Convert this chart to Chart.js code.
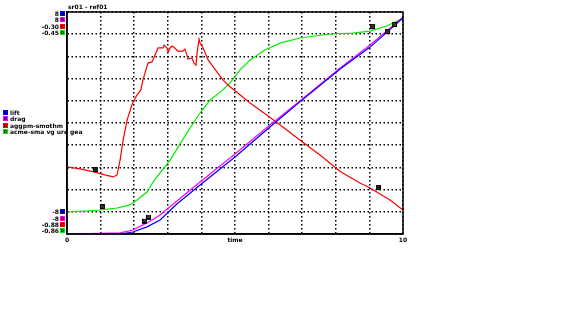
<!DOCTYPE html>
<html>
<head>
<meta charset="utf-8">
<script src="https://cdn.jsdelivr.net/npm/chart.js@4/dist/chart.umd.min.js"></script>
<style>
  html, body { margin: 0; padding: 0; background: #fff; }
  #wrap { width: 573px; height: 334px; position: relative; }
</style>
</head>
<body>
<div id="wrap"><canvas id="c"></canvas></div>
<script>
// x in time units (0..10), y normalised to the 10 grid divisions
const redX = [0, 0.39, 0.83, 1.13, 1.37, 1.49, 1.58, 1.67, 1.79, 1.93, 2.08, 2.20, 2.26, 2.32, 2.41, 2.53, 2.62, 2.71, 2.86, 2.89, 2.98, 3.01, 3.07, 3.13, 3.21, 3.30, 3.45, 3.51, 3.57, 3.60, 3.72, 3.78, 3.84, 3.87, 3.93, 3.96, 4.05, 4.20, 4.46, 4.64, 4.79, 5.45, 6.19, 6.93, 7.53, 8.13, 8.72, 9.02, 9.61, 10]
const redY = [3.02, 2.93, 2.79, 2.66, 2.57, 2.66, 3.33, 4.23, 5.14, 5.81, 6.26, 6.49, 6.94, 7.25, 7.70, 7.75, 8.06, 8.38, 8.38, 8.51, 8.38, 8.20, 8.38, 8.47, 8.38, 8.24, 8.24, 8.33, 8.06, 7.88, 7.93, 7.70, 7.61, 8.15, 8.78, 8.60, 8.38, 7.84, 7.30, 6.94, 6.71, 5.90, 5.09, 4.23, 3.56, 2.82, 2.30, 2.07, 1.53, 1.08]

const greenX = [0, 0.65, 0.98, 1.28, 1.49, 1.88, 2.08, 2.38, 2.56, 2.77, 3.07, 3.36, 3.66, 3.96, 4.26, 4.64, 4.85, 5.15, 5.45, 5.89, 6.34, 6.93, 7.83, 8.51, 9.02, 9.52, 10]
const greenY = [0.99, 1.04, 1.08, 1.13, 1.17, 1.31, 1.53, 1.89, 2.34, 2.75, 3.33, 4.05, 4.77, 5.45, 6.04, 6.49, 6.80, 7.39, 7.84, 8.29, 8.60, 8.83, 9.01, 9.05, 9.14, 9.37, 9.73]

const blueX = [0, 1.58, 1.96, 2.38, 2.77, 3.27, 3.96, 5.0, 6.04, 6.93, 8.13, 9.02, 10]
const blueY = [0, 0, 0.09, 0.32, 0.63, 1.35, 2.21, 3.47, 4.82, 5.95, 7.43, 8.42, 9.73]

const magentaX = [0, 1.58, 1.96, 2.38, 2.77, 3.27, 3.96, 5.0, 6.04, 6.93, 8.13, 9.02, 10]
const magentaY = [0, 0.05, 0.18, 0.50, 0.86, 1.49, 2.34, 3.60, 4.91, 5.99, 7.48, 8.51, 9.77]

const xTickLabels = { 0: '0', 5: 'time', 10: '10' }
const titleText = 'sr01 - ref01'
const seriesLetters = ['A', 'B', 'C', 'D']
const seriesNames = ['lift', 'drag', 'aggpm-smothm', 'acme-sma vg ure gea']
const topValues = ['8', '8', '-0.30', '-0.45']
const bottomValues = ['-8', '-8', '-0.88', '-0.86']
const colors = ['#0000ff', '#ff00ff', '#ff0000', '#00ee00']

// on-curve markers: [dataset, point index, letter, dx, dy]
const curveMarks = [
  [2, 2, 'C', 0, -2],
  [2, 47, 'C', 8, 0],
  [3, 2, 'D', 2, -3],
  [3, 24, 'D', 2, -4],
  [0, 3, 'A', -3, -5],
  [1, 3, 'B', 1, -5],
  [0, 11, 'A', 17, -15],
  [1, 11, 'B', 24, -20]
]

function pts(xs, ys) {
  return xs.map((x, i) => ({ x: x, y: ys[i] }))
}

const textPlugin = {
  id: 'texts',
  afterDraw(chart) {
    const ctx = chart.ctx
    const ca = chart.chartArea
    ctx.save()

    // solid frame round the plot
    ctx.strokeStyle = '#000'
    ctx.lineWidth = 1.5
    ctx.strokeRect(ca.left, ca.top, ca.right - ca.left, ca.bottom - ca.top)

    ctx.font = 'bold 6px "DejaVu Sans"'
    ctx.fillStyle = '#000'
    ctx.textBaseline = 'middle'

    // title above plot
    ctx.textAlign = 'left'
    ctx.fillText(titleText, ca.left + 1, ca.top - 5)

    const icon = (i, x, y) => {
      ctx.fillStyle = colors[i]
      ctx.fillRect(x, y - 3, 5, 5)
      ctx.fillStyle = '#000'
      ctx.font = 'bold 4px "DejaVu Sans"'
      ctx.textAlign = 'center'
      ctx.fillText(seriesLetters[i], x + 2.5, y - 0.5)
      ctx.font = 'bold 6px "DejaVu Sans"'
    }

    // max values top-left, min values bottom-left
    const topY = [14, 20, 27, 33]
    const botY = [212, 219, 225, 231]
    for (let i = 0; i < 4; i++) {
      ctx.textAlign = 'right'
      ctx.fillStyle = '#000'
      ctx.fillText(topValues[i], ca.left - 8, topY[i])
      icon(i, ca.left - 7, topY[i])
      ctx.textAlign = 'right'
      ctx.fillStyle = '#000'
      ctx.fillText(bottomValues[i], ca.left - 8, botY[i])
      icon(i, ca.left - 7, botY[i])
    }

    // legend on the left
    const legY = [113, 119, 126, 132]
    for (let i = 0; i < 4; i++) {
      icon(i, 3, legY[i])
      ctx.textAlign = 'left'
      ctx.fillStyle = '#000'
      ctx.fillText(seriesNames[i], 10, legY[i])
    }

    // markers on the curves
    curveMarks.forEach(([d, p, letter, dx, dy]) => {
      const el = chart.getDatasetMeta(d).data[p]
      const x = el.x + dx, y = el.y + dy
      ctx.fillStyle = '#000'
      ctx.fillRect(x - 2, y - 3, 5, 5)
      ctx.fillStyle = '#555'
      ctx.font = 'bold 4px "DejaVu Sans"'
      ctx.textAlign = 'center'
      ctx.fillText(letter, x + 0.5, y - 0.5)
      ctx.font = 'bold 6px "DejaVu Sans"'
    })
    ctx.restore()
  }
}

const lineStyle = (label, data, color) => ({
  label: label,
  data: data,
  borderColor: color,
  backgroundColor: color,
  borderWidth: 1.2,
  pointRadius: 0,
  tension: 0,
  fill: false
})

new Chart(document.getElementById('c'), {
  type: 'line',
  data: {
    datasets: [
      lineStyle('A', pts(blueX, blueY), colors[0]),
      lineStyle('B', pts(magentaX, magentaY), colors[1]),
      lineStyle('C', pts(redX, redY), colors[2]),
      lineStyle('D', pts(greenX, greenY), colors[3])
    ]
  },
  options: {
    responsive: true,
    maintainAspectRatio: false,
    animation: false,
    layout: {
      padding: { top: 12, left: 67, right: 170, bottom: 88 }
    },
    plugins: {
      legend: { display: false },
      tooltip: { enabled: false }
    },
    scales: {
      x: {
        type: 'linear',
        min: 0,
        max: 10,
        afterFit: s => { s.height = 12 },
        border: { display: true, color: '#000', width: 1.5, dash: [1.5, 2.5] },
        grid: { color: '#000', lineWidth: 1.5, drawTicks: false },
        ticks: {
          stepSize: 1,
          maxRotation: 0,
          autoSkip: false,
          padding: 3,
          color: '#000',
          font: { size: 6, weight: 'bold', family: 'DejaVu Sans' },
          callback: v => xTickLabels[v] !== undefined ? xTickLabels[v] : ''
        }
      },
      y: {
        type: 'linear',
        min: 0,
        max: 10,
        afterFit: s => { s.width = 0 },
        border: { display: true, color: '#000', width: 1.5, dash: [1.5, 2.5] },
        grid: { color: '#000', lineWidth: 1.5, drawTicks: false },
        ticks: { stepSize: 1, display: false }
      }
    }
  },
  plugins: [textPlugin]
})
</script>
</body>
</html>
